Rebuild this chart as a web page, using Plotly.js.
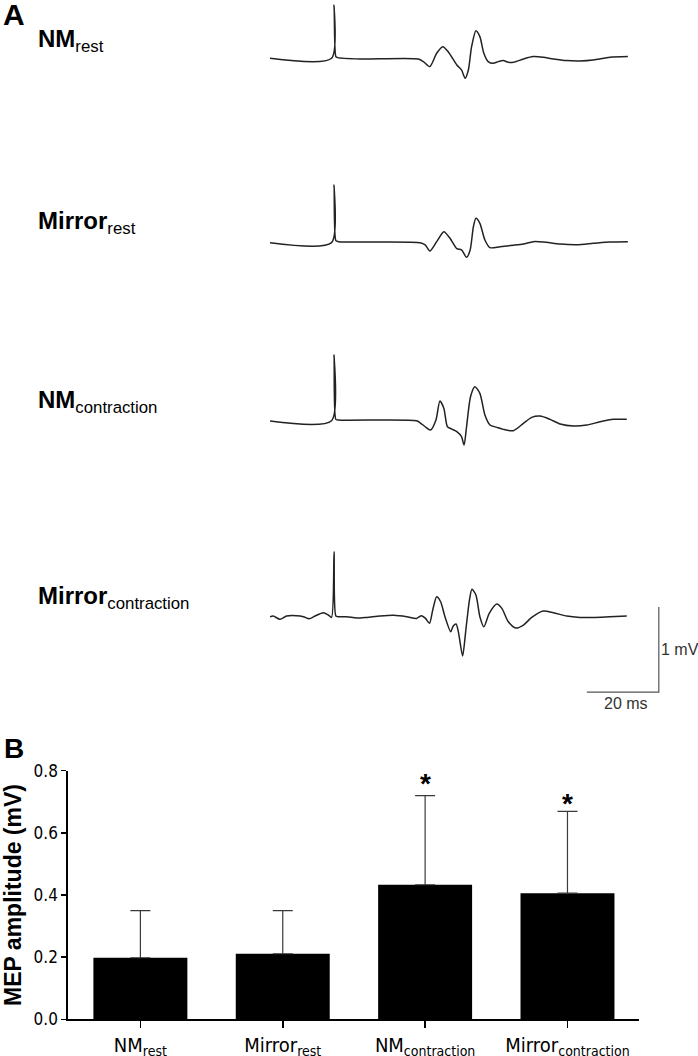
<!DOCTYPE html>
<html>
<head>
<meta charset="utf-8">
<script src="https://cdn.plot.ly/plotly-3.0.1.min.js"></script>
<style>html,body{margin:0;padding:0;background:#fff;}#chart{width:698px;height:1056px;}</style>
</head>
<body>
<div id="chart"></div>
<script>
// ---------- Panel A: MEP traces (time in ms, amplitude in mV) ----------
const traceLabels = ["<b>NM</b><sub>rest</sub>", "<b>Mirror</b><sub>rest</sub>", "<b>NM</b><sub>contraction</sub>", "<b>Mirror</b><sub>contraction</sub>"];

const nmRestT  = [0, 17.1, 17.8, 18.3, 18.8, 25, 41.2, 42.6, 44.4, 46.3, 48.0, 49.5, 51.9, 53.2, 54.2, 55.1, 56.0, 57.2, 58.3, 59.4, 60.6, 62.0, 63.4, 64.8, 66.2, 67.6, 70.4, 73.1, 75.9, 78.7, 82.4, 86.1, 89.8, 94.4, 99.4];
const nmRestMv = [0, 0, 0.627, 0.02, 0.008, -0.008, -0.008, -0.039, -0.098, 0.059, 0.137, 0.078, -0.078, -0.137, -0.235, -0.137, 0.137, 0.325, 0.255, 0.059, -0.039, -0.059, -0.039, -0.027, -0.047, -0.047, -0.008, 0.02, 0.012, -0.008, -0.027, -0.031, -0.02, 0.012, 0.02];

const mirRestT  = [0, 17.1, 17.8, 18.3, 19.0, 41.7, 43.1, 44.4, 46.3, 48.3, 50.0, 51.9, 53.2, 54.6, 55.6, 56.5, 57.2, 58.3, 59.7, 61.1, 63.9, 67.6, 70.4, 73.1, 75.9, 80.6, 85.2, 89.8, 94.4, 99.4];
const mirRestMv = [0, 0, 0.678, 0.024, 0.012, 0, -0.027, -0.098, 0.012, 0.129, 0.051, -0.071, -0.086, -0.173, -0.086, 0.188, 0.286, 0.227, 0.031, -0.059, -0.047, -0.031, -0.016, 0.012, 0.008, -0.016, -0.024, -0.008, 0.008, 0.012];

const nmConT  = [0, 17.1, 17.8, 18.3, 19.0, 40.7, 41.7, 43.1, 44.6, 46.1, 47.2, 48.3, 49.3, 50.5, 51.9, 53.2, 53.9, 54.6, 55.7, 56.9, 58.3, 59.7, 61.1, 63.0, 64.8, 67.6, 70.4, 72.7, 75.0, 77.8, 80.6, 84.3, 88.0, 91.7, 95.4, 99.1];
const nmConMv = [-0.004, 0, 0.773, 0.016, 0.008, 0, -0.024, -0.071, -0.11, 0.008, 0.231, 0.145, -0.071, -0.098, -0.129, -0.188, -0.286, -0.071, 0.282, 0.4, 0.322, 0.067, -0.051, -0.078, -0.102, -0.118, -0.031, 0.039, 0.055, 0.016, -0.039, -0.063, -0.051, -0.012, 0.016, 0.016];

const mirConT  = [0, 0.9, 2.8, 4.6, 7.4, 9.3, 10.9, 12.5, 14.8, 16.2, 17.1, 17.8, 18.3, 19.0, 21.3, 24.1, 26.9, 30.6, 34.3, 38.0, 40.7, 42.1, 43.2, 44.3, 45.2, 46.3, 47.4, 48.6, 50.2, 50.9, 51.7, 52.4, 53.5, 54.4, 55.4, 56.1, 57.2, 58.3, 59.4, 60.9, 63.0, 64.4, 66.2, 68.3, 70.4, 72.7, 75.9, 78.7, 82.4, 86.1, 89.8, 94.4, 99.1];
const mirConMv = [0, 0.008, -0.031, 0.008, 0.012, 0, -0.024, 0.008, 0.047, 0.02, -0.008, 0.765, 0.008, 0, 0, -0.016, -0.008, 0.008, 0.016, 0, -0.02, 0.012, -0.02, -0.078, 0.078, 0.235, 0.176, 0, -0.176, -0.11, -0.086, -0.196, -0.463, -0.157, 0.196, 0.322, 0.255, 0, -0.118, 0.039, 0.149, 0.098, -0.059, -0.133, -0.098, -0.008, 0.067, 0.047, 0.008, -0.008, -0.008, 0, 0.008];

// scale bar: 20 ms horizontal, 1 mV vertical
const scaleBarMs = [88, 108, 108];
const scaleBarMv = [-0.886, -0.886, 0.114];

// ---------- Panel B: MEP amplitude ----------
const categories = ["NM<sub>rest</sub>", "Mirror<sub>rest</sub>", "NM<sub>contraction</sub>", "Mirror<sub>contraction</sub>"];
const meanAmp = [0.198, 0.211, 0.433, 0.406];
const sdAmp   = [0.152, 0.139, 0.287, 0.263];
const significant = [false, false, true, true];
const yTicks = [0, 0.2, 0.4, 0.6, 0.8];

const lineStyle = {color: '#222', width: 1.5, shape: 'spline', smoothing: 0.7};
const seriesT = [nmRestT, mirRestT, nmConT, mirConT];
const seriesV = [nmRestMv, mirRestMv, nmConMv, mirConMv];
const yNames = ['y', 'y2', 'y3', 'y4'];

const data = [];
for (let i = 0; i < 4; i++) {
  data.push({x: seriesT[i], y: seriesV[i], type: 'scatter', mode: 'lines', xaxis: 'x', yaxis: yNames[i], line: lineStyle, hoverinfo: 'skip', name: traceLabels[i]});
}
data.push({x: scaleBarMs, y: scaleBarMv, type: 'scatter', mode: 'lines', xaxis: 'x', yaxis: 'y4', line: {color: '#555', width: 1.2}, hoverinfo: 'skip'});
data.push({
  x: categories, y: meanAmp, type: 'bar', xaxis: 'x2', yaxis: 'y5',
  marker: {color: '#000', line: {width: 0}},
  error_y: {type: 'data', symmetric: false, array: sdAmp, arrayminus: sdAmp.map(() => 0), color: '#3a3a3a', thickness: 1.2, width: 10}
});

const narrow = '"Liberation Sans Narrow", "Arial Narrow", "DejaVu Sans Condensed", sans-serif';
const arial = '"Liberation Sans", Arial, sans-serif';
const hidden = {visible: false, fixedrange: true};

const annotations = [
  {text: '<b>A</b>', xref: 'paper', yref: 'paper', x: 0.0015, y: 1.004, xanchor: 'left', yanchor: 'top', showarrow: false, font: {family: arial, size: 30, color: '#000'}},
  {text: '<b>B</b>', xref: 'paper', yref: 'paper', x: 0.003, y: 0.308, xanchor: 'left', yanchor: 'top', showarrow: false, font: {family: arial, size: 28, color: '#000'}},
  {text: '1 mV', xref: 'x', yref: 'y4', x: scaleBarMs[2], y: -0.38, xshift: 0, xanchor: 'left', yanchor: 'middle', showarrow: false, font: {family: arial, size: 16, color: '#333'}},
  {text: '20 ms', xref: 'x', yref: 'y4', x: (scaleBarMs[0] + scaleBarMs[1]) / 2, y: scaleBarMv[0], xshift: 3, yshift: -1, xanchor: 'center', yanchor: 'top', showarrow: false, font: {family: arial, size: 16, color: '#333'}}
];
const labelTops = [0.9778, 0.8063, 0.6368, 0.4512];
for (let i = 0; i < 4; i++) {
  annotations.push({text: traceLabels[i], xref: 'paper', yref: 'paper', x: 0.0516, y: labelTops[i], xanchor: 'left', yanchor: 'top', showarrow: false, font: {family: arial, size: 24, color: '#000'}});
}
const starShift = [0, 0, -5, -10];
for (let i = 0; i < 4; i++) {
  if (!significant[i]) continue;
  annotations.push({text: '<b>*</b>', xref: 'x2', yref: 'y5', x: categories[i], y: meanAmp[i] + sdAmp[i], yshift: starShift[i], xanchor: 'center', yanchor: 'bottom', showarrow: false, font: {family: arial, size: 28, color: '#000'}});
}

const layout = {
  width: 698, height: 1056,
  margin: {l: 0, r: 0, t: 0, b: 0},
  paper_bgcolor: '#fff', plot_bgcolor: '#fff',
  showlegend: false,
  font: {family: arial, color: '#000'},
  xaxis: Object.assign({domain: [0.3868, 0.9599], range: [0, 111.11], anchor: 'y4'}, hidden),
  yaxis: Object.assign({domain: [0.83902, 1], range: [-1.314, 0.686], anchor: 'x'}, hidden),
  yaxis2: Object.assign({domain: [0.67330, 0.83428], range: [-1.204, 0.796], anchor: 'x'}, hidden),
  yaxis3: Object.assign({domain: [0.50758, 0.66856], range: [-1.168, 0.832], anchor: 'x'}, hidden),
  yaxis4: Object.assign({domain: [0.31818, 0.49811], range: [-1.215, 1.020], anchor: 'x'}, hidden),
  xaxis2: {
    domain: [0.0971, 0.9150], anchor: 'y5', type: 'category', range: [-0.51, 3.5],
    showline: true, linecolor: '#000', linewidth: 1.5, ticks: 'outside', ticklen: 7, tickwidth: 1.5, tickcolor: '#000',
    tickfont: {family: narrow, size: 20, color: '#000'}, showgrid: false, zeroline: false, fixedrange: true
  },
  yaxis5: {
    domain: [0.03475, 0.27017], anchor: 'x2', range: [0, 0.8], tickvals: yTicks, tickformat: '.1f',
    showline: true, linecolor: '#000', linewidth: 1.5, ticks: 'outside', ticklen: 5, tickwidth: 1.5, tickcolor: '#000',
    tickfont: {family: narrow, size: 17, color: '#000'}, showgrid: false, zeroline: false, fixedrange: true,
    title: {text: 'MEP amplitude (mV)', standoff: 6, font: {family: arial, size: 23, weight: 700, color: '#000'}}
  },
  bargap: 0.34,
  annotations: annotations
};

Plotly.newPlot('chart', data, layout, {displayModeBar: false, staticPlot: true});
</script>
</body>
</html>
